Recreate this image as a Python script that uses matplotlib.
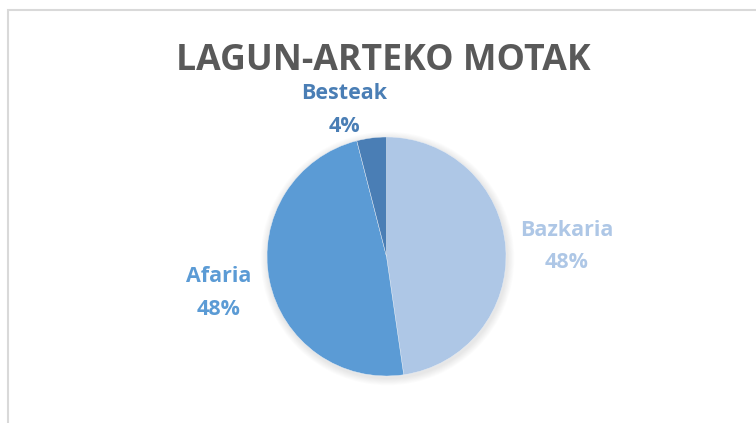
import matplotlib
matplotlib.use("Agg")
import matplotlib.pyplot as plt
from matplotlib.patches import Rectangle, Circle

categories = ["Bazkaria", "Afaria", "Besteak"]
values = [47.7, 48.3, 4.0]
colors = ["#AEC7E6", "#5B9BD5", "#4A7EB5"]
title = "LAGUN-ARTEKO MOTAK"

W, H = 756, 423
fig = plt.figure(figsize=(W / 100, H / 100), dpi=100)
fig.patch.set_facecolor("white")

# chart frame (only top/left visible in the crop)
fig.patches.append(Rectangle((8 / W, -0.1), 2.0, (H - 10) / H + 0.1,
                             transform=fig.transFigure, fill=False,
                             edgecolor="#D9D9D9", linewidth=1.5))

ax = fig.add_axes([0, 0, 1, 1])
ax.set_xlim(0, W)
ax.set_ylim(0, H)
ax.set_aspect("equal")
ax.axis("off")

cx, cy, r = 386.5, H - 256.5, 119.5

# soft shadow
for i in range(8):
    ax.add_patch(Circle((cx + 1, cy - 2), r + 1 + i * 0.9, facecolor="black",
                        alpha=0.012, edgecolor="none", zorder=0))

wedges, _ = ax.pie(values, colors=colors, startangle=90, counterclock=False,
                   center=(cx, cy), radius=r, frame=True,
                   wedgeprops=dict(linewidth=0.3, edgecolor="#E8EEF6"))
ax.set_xlim(0, W)
ax.set_ylim(0, H)
ax.axis("off")

total = sum(values)
label_pos = {"Bazkaria": (567, H - 246.5), "Afaria": (219, H - 293),
             "Besteak": (344, H - 110)}
font = "Open Sans"
for cat, val, col in zip(categories, values, colors):
    x, y = label_pos[cat]
    ax.text(x, y, f"{cat}\n{round(val / total * 100):.0f}%", ha="center",
            va="center", color=col, fontsize=15.5, fontweight="bold",
            family=font, linespacing=1.7)

fig.text(383 / W, 1 - 61 / H, title, ha="center", va="center",
         fontsize=25.7, fontweight="bold", color="#595959", family=font)

fig.savefig("out.png", dpi=100, facecolor="white")
